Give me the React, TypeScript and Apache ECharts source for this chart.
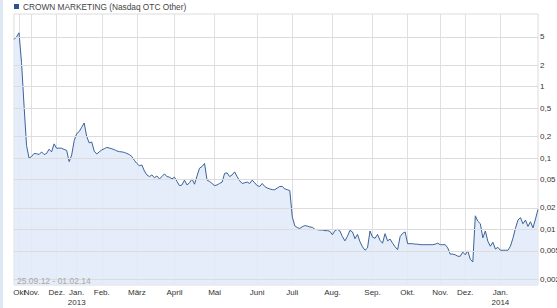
import React, { useEffect, useRef } from "react";
import * as echarts from "echarts";

// Month labels (first point of each month carries it)
const monthLabels = [
  "", "Okt", "Nov.", "Dez.", "Jan.\n2013", "Feb.", "März", "April", "Mai", "Juni",
  "Juli", "Aug.", "Sep.", "Okt.", "Nov.", "Dez.", "Jan.\n2014",
];

// Prices per month
const sep12 = [4.6, 5.0];
const okt12 = [5.7, 2.2, 0.55, 0.15, 0.1];
const nov12 = [0.105, 0.116, 0.115, 0.112, 0.122, 0.112, 0.116, 0.133, 0.122, 0.158];
const dez12 = [0.137, 0.138, 0.137, 0.132, 0.128, 0.089, 0.11, 0.175];
const jan13 = [0.22, 0.235, 0.27, 0.31, 0.2, 0.163, 0.168, 0.125, 0.114, 0.122];
const feb13 = [0.13, 0.135, 0.141, 0.138, 0.135, 0.131, 0.126, 0.123, 0.122, 0.12, 0.116, 0.112, 0.105, 0.093];
const mar13 = [0.084, 0.078, 0.08, 0.066, 0.058, 0.055, 0.058, 0.053, 0.056, 0.051, 0.055, 0.06, 0.055, 0.054, 0.051];
const apr13 = [0.054, 0.047, 0.041, 0.042, 0.049, 0.042, 0.045, 0.051, 0.043, 0.056, 0.072, 0.076, 0.084, 0.049, 0.047, 0.044];
const mai13 = [0.041, 0.042, 0.044, 0.046, 0.061, 0.062, 0.055, 0.058, 0.064, 0.055, 0.048, 0.044, 0.045, 0.046, 0.044, 0.049, 0.045];
const jun13 = [0.041, 0.04, 0.044, 0.04, 0.038, 0.037, 0.036, 0.036, 0.038, 0.04, 0.04, 0.037, 0.036, 0.035];
const jul13 = [0.015, 0.0112, 0.0106, 0.0103, 0.0109, 0.0113, 0.0111, 0.0108, 0.0107, 0.01, 0.0099, 0.0098, 0.0098, 0.0096, 0.0096, 0.0094];
const aug13 = [0.0084, 0.0096, 0.01, 0.0095, 0.0079, 0.0069, 0.008, 0.0097, 0.0092, 0.0074, 0.0085, 0.0067, 0.0057, 0.0051, 0.0055, 0.0095];
const sep13 = [0.0078, 0.0075, 0.0085, 0.007, 0.0064, 0.0087, 0.0069, 0.0073, 0.0064, 0.0057, 0.0052, 0.0079, 0.0088, 0.0092];
const okt13 = [0.0063, 0.0063, 0.0063, 0.0062, 0.0062, 0.0061, 0.0061, 0.0061, 0.0061, 0.0061, 0.0061, 0.0062, 0.0064];
const nov13 = [0.0061, 0.0061, 0.0061, 0.0055, 0.0045, 0.0045, 0.0044, 0.0042, 0.0042, 0.0048];
const dez13 = [0.0044, 0.005, 0.0038, 0.0035, 0.0155, 0.013, 0.012, 0.0076, 0.0095, 0.0068, 0.0058, 0.0066, 0.0053, 0.0056];
const jan14 = [0.0051, 0.0051, 0.0051, 0.0051, 0.0058, 0.0075, 0.0103, 0.0135, 0.0146, 0.012, 0.0135, 0.011, 0.0128, 0.0105, 0.014, 0.019];

const months = [sep12, okt12, nov12, dez12, jan13, feb13, mar13, apr13, mai13, jun13, jul13, aug13, sep13, okt13, nov13, dez13, jan14];

// y-axis tick values (log scale, 1-2-5) and their labels
const yTicks = [5, 2, 1, 0.5, 0.2, 0.1, 0.05, 0.02, 0.01, 0.005, 0.002];
const yTickLabels = ["5", "2", "1", "0,5", "0,2", "0,1", "0,05", "0,02", "0,01", "0,005", "0,002"];
const yMin = 0.00166;
const yMax = 10.46;

const title = "CROWN MARKETING (Nasdaq OTC Other)";
const rangeText = "25.09.12 - 01.02.14";

const FONT = "'Liberation Sans', Arial, sans-serif";

export default function App() {
  const ref = useRef<HTMLDivElement>(null);

  useEffect(() => {
    if (!ref.current) return;
    const chart = echarts.init(ref.current, undefined, { renderer: "svg" });

    const categories: string[] = [];
    const values: number[] = [];
    const labelAt = new Map<number, string>();
    months.forEach((arr, m) => {
      arr.forEach((v, j) => {
        const idx = categories.length;
        categories.push(`${m}-${j}`);
        values.push(v);
        if (j === 0 && monthLabels[m]) labelAt.set(idx, monthLabels[m]);
      });
    });
    // the very first month label ("Okt") touches "Nov."; it is drawn separately
    const firstIdx = Math.min(...Array.from(labelAt.keys()));
    const firstLabel = labelAt.get(firstIdx) || "";

    chart.setOption({
      animation: false,
      textStyle: { fontFamily: FONT },
      grid: {
        left: 14,
        right: 19,
        top: 14,
        bottom: 23,
        show: true,
        borderColor: "#dcdcdc",
        borderWidth: 1,
        backgroundColor: "transparent",
      },
      graphic: [
        { type: "rect", left: 0, top: 0, shape: { x: 0, y: 0, width: 3, height: 308 }, style: { fill: "#dde8f5" } },
        { type: "rect", shape: { x: 14, y: 4, width: 5, height: 5 }, style: { fill: "#2b5291" } },
        {
          type: "text",
          x: 23,
          y: 7,
          style: { text: title, fill: "#444", font: `8.3px ${FONT}`, verticalAlign: "middle" },
        },
        {
          type: "text",
          x: 17,
          y: 281,
          z: 10,
          style: { text: rangeText, fill: "#a8a8a8", font: `8.5px ${FONT}`, verticalAlign: "middle" },
        },
        {
          type: "text",
          x: 19.5,
          y: 292,
          style: { text: firstLabel, fill: "#333", font: `8px ${FONT}`, align: "center", verticalAlign: "middle" },
        },
      ],
      xAxis: {
        type: "category",
        data: categories,
        boundaryGap: false,
        axisLine: { show: false },
        axisTick: { show: false },
        axisLabel: {
          interval: (i: number) => labelAt.has(i) && i !== firstIdx,
          formatter: (_v: string, i: number) => labelAt.get(i) || "",
          hideOverlap: false,
          showMinLabel: true,
          color: "#333",
          fontSize: 8,
          lineHeight: 10,
          margin: 2,
          fontFamily: FONT,
        },
        splitLine: {
          show: true,
          interval: (i: number) => labelAt.has(i),
          lineStyle: { color: "#e0e0e0", width: 1 },
        },
      },
      yAxis: {
        type: "log",
        logBase: 10,
        position: "right",
        min: yMin,
        max: yMax,
        axisLine: { show: false },
        axisTick: { show: false },
        axisLabel: { show: false },
        splitLine: { show: false },
      },
      series: [
        {
          type: "line",
          data: values,
          showSymbol: false,
          symbol: "none",
          lineStyle: { color: "#3b6299", width: 1 },
          areaStyle: { color: "#e1eaf9", opacity: 0.85, origin: "start" },
          emphasis: { disabled: true },
          markLine: {
            silent: true,
            precision: 6,
            symbol: ["none", "none"],
            animation: false,
            lineStyle: { color: "#dcdcdc", type: "solid", width: 1 },
            label: {
              show: true,
              position: "end",
              distance: 2,
              color: "#333",
              fontSize: 8,
              fontFamily: FONT,
              formatter: (p: any) => yTickLabels[p.dataIndex] ?? "",
            },
            emphasis: { disabled: true },
            data: yTicks.map((v) => ({ yAxis: v })),
          },
        },
      ],
    });

    return () => chart.dispose();
  }, []);

  return (
    <div
      ref={ref}
      style={{ position: "fixed", left: 0, top: 0, width: 557, height: 308, background: "#fff" }}
    />
  );
}
